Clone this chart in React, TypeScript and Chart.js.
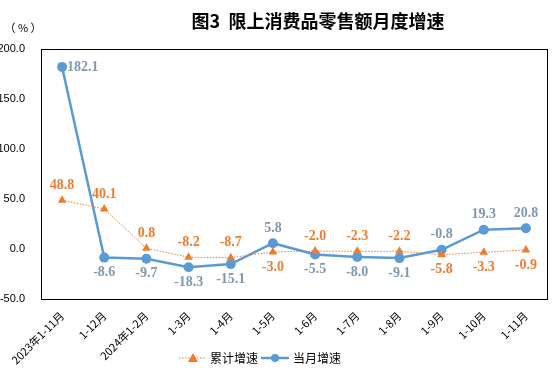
import React, { useEffect, useRef } from "react";
import { Chart, registerables } from "chart.js";

Chart.register(...registerables);

const categories = [
  "2023年1-11月", "1-12月", "2024年1-2月", "1-3月", "1-4月", "1-5月",
  "1-6月", "1-7月", "1-8月", "1-9月", "1-10月", "1-11月",
];
const cumulative = [48.8, 40.1, 0.8, -8.2, -8.7, -3.0, -2.0, -2.3, -2.2, -5.8, -3.3, -0.9];
const monthly = [182.1, -8.6, -9.7, -18.3, -15.1, 5.8, -5.5, -8.0, -9.1, -0.8, 19.3, 20.8];
const cumulativeLabelSide = ["a", "a", "a", "a", "a", "b", "a", "a", "a", "b", "b", "b"];
const monthlyLabelSide = ["r", "b", "b", "b", "b", "a", "b", "b", "b", "a", "a", "a"];
const yTicks = [-50, 0, 50, 100, 150, 200];

const ORANGE = "#ED7D31";
const BLUE = "#5B9BD5";
const BLUE_LABEL = "#8497B0";
const CJK = "'Noto Sans CJK SC', 'Liberation Sans', sans-serif";

const overlay = {
  id: "overlay",
  afterDraw(chart: any) {
    const ctx = chart.ctx;
    const a = chart.chartArea;
    ctx.save();
    // border
    ctx.strokeStyle = "#000";
    ctx.lineWidth = 1;
    ctx.strokeRect(Math.round(a.left) + 0.5, Math.round(a.top) + 0.5, Math.round(a.right - a.left), Math.round(a.bottom - a.top));
    // title
    ctx.fillStyle = "#000";
    ctx.textAlign = "center";
    ctx.textBaseline = "middle";
    ctx.font = "bold 18px " + CJK;
    ctx.fillText("图3  限上消费品零售额月度增速", 318, 21);
    ctx.font = "11px " + CJK;
    ctx.fillText("（ % ）", 23, 28);
    // data labels
    const drawLabels = (dsIndex: number, values: number[], sides: string[], color: string) => {
      const meta = chart.getDatasetMeta(dsIndex);
      ctx.font = "bold 14px 'Liberation Serif', serif";
      ctx.fillStyle = color;
      meta.data.forEach((pt: any, i: number) => {
        const txt = values[i].toFixed(1);
        const s = sides[i];
        if (s === "r") {
          ctx.textAlign = "left";
          ctx.fillText(txt, pt.x + 5, pt.y);
        } else {
          ctx.textAlign = "center";
          ctx.fillText(txt, pt.x, s === "a" ? pt.y - 15 : pt.y + 15);
        }
      });
    };
    drawLabels(0, cumulative, cumulativeLabelSide, ORANGE);
    drawLabels(1, monthly, monthlyLabelSide, BLUE_LABEL);
    // legend
    const ly = 358;
    ctx.strokeStyle = ORANGE;
    ctx.lineWidth = 1;
    ctx.setLineDash([1.5, 1.5]);
    ctx.beginPath();
    ctx.moveTo(179, ly);
    ctx.lineTo(205, ly);
    ctx.stroke();
    ctx.setLineDash([]);
    ctx.fillStyle = ORANGE;
    ctx.beginPath();
    ctx.moveTo(193, ly - 5);
    ctx.lineTo(198, ly + 4);
    ctx.lineTo(188, ly + 4);
    ctx.closePath();
    ctx.fill();
    ctx.strokeStyle = BLUE;
    ctx.lineWidth = 2.5;
    ctx.beginPath();
    ctx.moveTo(261, ly);
    ctx.lineTo(289, ly);
    ctx.stroke();
    ctx.fillStyle = BLUE;
    ctx.beginPath();
    ctx.arc(275, ly, 4, 0, Math.PI * 2);
    ctx.fill();
    ctx.fillStyle = "#000";
    ctx.textAlign = "left";
    ctx.font = "12px " + CJK;
    ctx.fillText("累计增速", 210, ly);
    ctx.fillText("当月增速", 293, ly);
    ctx.restore();
  },
};

export default function App() {
  const ref = useRef<HTMLCanvasElement>(null);
  useEffect(() => {
    document.body.style.margin = "0";
    const chart = new Chart(ref.current!, {
      type: "line",
      data: {
        labels: categories,
        datasets: [
          {
            label: "累计增速",
            data: cumulative,
            borderColor: ORANGE,
            backgroundColor: ORANGE,
            borderWidth: 1,
            borderDash: [1.5, 1.5],
            pointStyle: "triangle",
            pointRadius: 5,
            pointBorderWidth: 0,
            tension: 0,
          },
          {
            label: "当月增速",
            data: monthly,
            borderColor: BLUE,
            backgroundColor: BLUE,
            borderWidth: 2.5,
            pointStyle: "circle",
            pointRadius: 5,
            pointBorderWidth: 0,
            tension: 0,
          },
        ],
      },
      options: {
        animation: false,
        responsive: false,
        layout: { padding: { top: 49, right: 6, left: 0, bottom: 0 } },
        plugins: { legend: { display: false }, title: { display: false }, tooltip: { enabled: false } },
        scales: {
          x: {
            offset: true,
            grid: { display: false },
            border: { display: false },
            ticks: {
              minRotation: 45,
              maxRotation: 45,
              autoSkip: false,
              color: "#000",
              font: { size: 11, family: CJK },
              padding: 2,
            },
            afterFit: (s: any) => { s.height = 76; },
          },
          y: {
            min: -50,
            max: 200,
            afterBuildTicks: (s: any) => { s.ticks = yTicks.map((v) => ({ value: v })); },
            grid: { display: false },
            border: { display: false },
            ticks: {
              color: "#000",
              font: { size: 11, family: "'Liberation Sans', Arial, sans-serif" },
              padding: 8,
              callback: (v: any) => Number(v).toFixed(1),
            },
            afterFit: (s: any) => { s.width = 41; },
          },
        },
      },
      plugins: [overlay],
    });
    return () => chart.destroy();
  }, []);
  return (
    <div style={{ width: 553, height: 375 }}>
      <canvas ref={ref} width={553} height={375} style={{ display: "block" }} />
    </div>
  );
}
